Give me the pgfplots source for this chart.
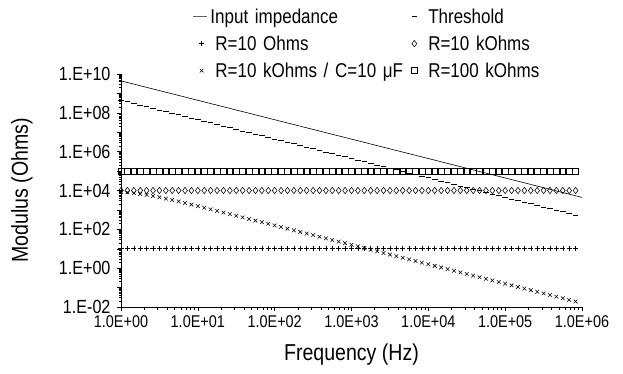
\documentclass[border=0pt]{standalone}
\usepackage{fontspec}
\setmainfont{Liberation Sans}[FakeStretch=0.85]
\usepackage{pgfplots}
\usepackage{pgfplotstable}
\pgfplotsset{compat=1.18}
\newcommand\xl[1]{\mbox{\fontsize{17}{19}\selectfont #1}}
\newcommand\yl[1]{\mbox{\fontsize{19}{21}\selectfont #1}}
\pgfplotstableread{
f th rc ra rb rc2
1 4.420e8 8467 10 10000 100000
1.2115 3.648e8 7957 10 10000 100000
1.4678 3.011e8 7351 10 10000 100000
1.7783 2.486e8 6669 10 10000 100000
2.1544 2.052e8 5942 10 10000 100000
2.6102 1.693e8 5206 10 10000 100000
3.1623 1.398e8 4496 10 10000 100000
3.8312 1.154e8 3836 10 10000 100000
4.6416 0.9523e8 3244 10 10000 100000
5.6234 0.7860e8 2723 10 10000 100000
6.8129 0.6488e8 2275 10 10000 100000
8.2540 0.5355e8 1893 10 10000 100000
10 4.420e7 1572 10 10000 100000
12.115 3.648e7 1303 10 10000 100000
14.678 3.011e7 1078 10 10000 100000
17.783 2.486e7 891.4 10 10000 100000
21.544 2.052e7 736.7 10 10000 100000
26.102 1.693e7 608.6 10 10000 100000
31.623 1.398e7 502.7 10 10000 100000
38.312 1.154e7 415.1 10 10000 100000
46.416 0.9523e7 342.7 10 10000 100000
56.234 0.7860e7 282.9 10 10000 100000
68.129 0.6488e7 233.5 10 10000 100000
82.540 0.5355e7 192.8 10 10000 100000
100 4.420e6 159.1 10 10000 100000
121.15 3.648e6 131.4 10 10000 100000
146.78 3.011e6 108.4 10 10000 100000
177.83 2.486e6 89.50 10 10000 100000
215.44 2.052e6 73.87 10 10000 100000
261.02 1.693e6 60.97 10 10000 100000
316.23 1.398e6 50.33 10 10000 100000
383.12 1.154e6 41.54 10 10000 100000
464.16 0.9523e6 34.29 10 10000 100000
562.34 0.7860e6 28.30 10 10000 100000
681.29 0.6488e6 23.36 10 10000 100000
825.40 0.5355e6 19.28 10 10000 100000
1000 4.420e5 15.915 10 10000 100000
1211.5 3.648e5 13.137 10 10000 100000
1467.8 3.011e5 10.843 10 10000 100000
1778.3 2.486e5 8.950 10 10000 100000
2154.4 2.052e5 7.387 10 10000 100000
2610.2 1.693e5 6.097 10 10000 100000
3162.3 1.398e5 5.033 10 10000 100000
3831.2 1.154e5 4.154 10 10000 100000
4641.6 0.9523e5 3.429 10 10000 100000
5623.4 0.7860e5 2.830 10 10000 100000
6812.9 0.6488e5 2.336 10 10000 100000
8254.0 0.5355e5 1.928 10 10000 100000
10000 4.420e4 1.5915 10 10000 100000
12115 3.648e4 1.3137 10 10000 100000
14678 3.011e4 1.0843 10 10000 100000
17783 2.486e4 0.8950 10 10000 100000
21544 2.052e4 0.7387 10 10000 100000
26102 1.693e4 0.6097 10 10000 100000
31623 1.398e4 0.5033 10 10000 100000
38312 1.154e4 0.4154 10 10000 100000
46416 0.9523e4 0.3429 10 10000 100000
56234 0.7860e4 0.2830 10 10000 100000
68129 0.6488e4 0.2336 10 10000 100000
82540 0.5355e4 0.1928 10 10000 100000
100000 4.420e3 0.15915 10 10000 100000
121150 3.648e3 0.13137 10 10000 100000
146780 3.011e3 0.10843 10 10000 100000
177830 2.486e3 0.08950 10 10000 100000
215440 2.052e3 0.07387 10 10000 100000
261020 1.693e3 0.06097 10 10000 100000
316230 1.398e3 0.05033 10 10000 100000
383120 1.154e3 0.04154 10 10000 100000
464160 0.9523e3 0.03429 10 10000 100000
562340 0.7860e3 0.02830 10 10000 100000
681290 0.6488e3 0.02336 10 10000 100000
825400 0.5355e3 0.01928 10 10000 100000
}\datatable
\begin{document}
\begin{tikzpicture}
\begin{axis}[
  scale only axis, width=461pt, height=233pt,
  xmode=log, ymode=log,
  xmin=1, xmax=1e6, ymin=1e-2, ymax=1e10,
  axis x line*=bottom, axis y line*=left, axis line style={-, line width=0.8pt},
  tick align=outside,
  major tick length=4pt, minor tick length=2.5pt,
  tick style={black, line width=0.5pt},
  xtick={1,10,100,1000,10000,100000,1000000},
  xticklabels={\xl{1.0E+00},\xl{1.0E+01},\xl{1.0E+02},\xl{1.0E+03},\xl{1.0E+04},\xl{1.0E+05},\xl{1.0E+06}},
  ytick={1e-2,1e-1,1,1e1,1e2,1e3,1e4,1e5,1e6,1e7,1e8,1e9,1e10},
  yticklabels={\yl{1.E-02},,\yl{1.E+00},,\yl{1.E+02},,\yl{1.E+04},,\yl{1.E+06},,\yl{1.E+08},,\yl{1.E+10}},
  xticklabel style={yshift=-1pt},
  yticklabel style={xshift=-3pt},
  every axis x label/.style={at={(axis description cs:0.5,-0.205)}, anchor=center},
  every axis y label/.style={at={(axis description cs:-0.215,0.5)}, rotate=90, anchor=center},
  xlabel={Frequency (Hz)}, ylabel={Modulus (Ohms)},
  label style={font=\fontsize{23}{26}\selectfont},
  legend columns=2,
  legend cell align=left,
  legend style={draw=none, fill=none, inner sep=0pt,
    at={(axis description cs:0.155,1.29)}, anchor=north west,
    font=\fontsize{20}{23}\selectfont, row sep=7pt,
    /tikz/every even column/.append style={text width=200pt, align=left}},
  clip=false,
]
\coordinate (bl) at (rel axis cs:0,0);
\addplot[black, line width=0.6pt, mark=none,
  legend image code/.code={\draw[black!60, line width=0.8pt] (0pt,0pt) -- (14pt,0pt);}]
  coordinates {(1,4.42e9) (10,4.42e8) (100,4.42e7) (1000,4.42e6) (10000,4.42e5) (100000,4.42e4) (1000000,4.42e3)};
\addlegendentry{\hspace*{1pt}Input impedance}
\addplot[black, only marks, mark=-, mark size=2.8pt, mark options={line width=1pt}] table[x=f, y=th] {\datatable};
\addlegendentry{\hspace*{9pt}Threshold}
\addplot[black, only marks, mark=+, mark size=2.6pt, mark options={line width=0.55pt}] table[x=f, y=ra] {\datatable};
\addlegendentry{\hspace*{6pt}R=10 Ohms}
\addplot[black, only marks, mark=diamond, mark size=3.2pt, mark options={line width=0.55pt}] table[x=f, y=rb] {\datatable};
\addlegendentry{\hspace*{9pt}R=10 kOhms}
\addplot[black, only marks, mark=x, mark size=2.6pt, mark options={line width=0.55pt}] table[x=f, y=rc] {\datatable};
\addlegendentry{\hspace*{6pt}\mbox{R=10 kOhms / C=10 μF}}
\addplot[black, only marks, mark=square, mark size=2.9pt, mark options={line width=0.55pt}] table[x=f, y=rc2] {\datatable};
\addlegendentry{\hspace*{9pt}R=100 kOhms}
\end{axis}
\pgfresetboundingbox
\path[use as bounding box] (bl) ++(-121pt,-66pt) rectangle ++(623pt,373pt);
\end{tikzpicture}
\end{document}
